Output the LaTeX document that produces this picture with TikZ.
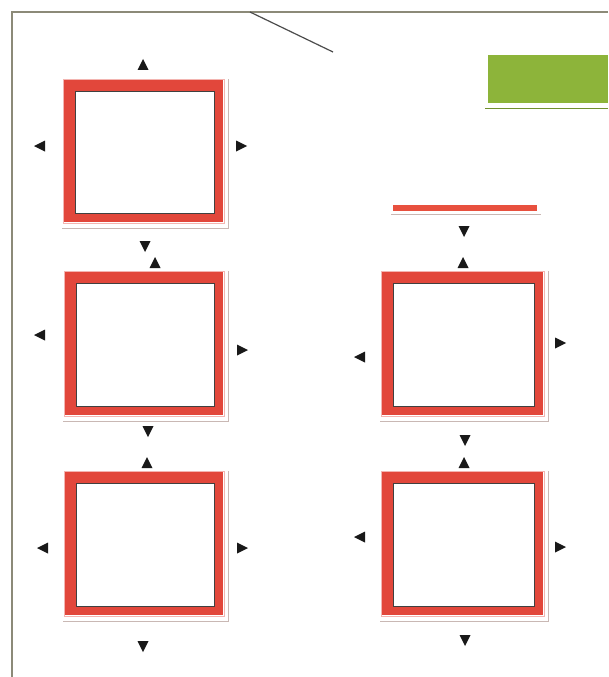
\documentclass[tikz,border=0pt]{standalone}
\usetikzlibrary{calc}
\definecolor{boxred}{HTML}{E2473B}
\definecolor{barred}{HTML}{E8503E}
\definecolor{leafgreen}{HTML}{8DB43A}
\definecolor{framegray}{HTML}{8C8A78}
\definecolor{shadowgray}{HTML}{C9B8B4}
\tikzset{
  outerred/.style={fill=boxred, draw=none},
  innerwhite/.style={fill=white, draw=black!75, line width=0.9pt},
  shadowline/.style={draw=shadowgray, line width=0.9pt},
  tri/.style={fill=black!90},
  frameline/.style={draw=framegray, line width=1.6pt}
}
\newcommand\mybox[5]{% name x0 y0 x1 y1
  \draw[shadowline] (#2-2,#5+6) -- (#4+5,#5+6) -- (#4+5,#3-1);
  \draw[draw=boxred!40, line width=0.6pt] (#2-1,#3-1) rectangle (#4+1,#5+1);
  \fill[outerred] (#2,#3) rectangle (#4,#5);
  \coordinate (#1) at ({(#2+#4)/2},{(#3+#5)/2});
  \filldraw[innerwhite] (#2+11,#3+11) rectangle (#4-9,#5-9);
}
\newcommand\tup[2]{\fill[tri] (#1-5.5,#2+5) -- (#1+5.5,#2+5) -- (#1,#2-6) -- cycle;}
\newcommand\tdown[2]{\fill[tri] (#1-5.5,#2-5) -- (#1+5.5,#2-5) -- (#1,#2+6) -- cycle;}
\newcommand\tleft[2]{\fill[tri] (#1+5,#2-5.5) -- (#1+5,#2+5.5) -- (#1-6,#2) -- cycle;}
\newcommand\tright[2]{\fill[tri] (#1-5,#2-5.5) -- (#1-5,#2+5.5) -- (#1+6,#2) -- cycle;}
\begin{document}
\begin{tikzpicture}[x=1pt,y=-1pt]
\useasboundingbox (0,0) rectangle (608,677);
\fill[white] (0,0) rectangle (608,677);
% frame
\coordinate (tl) at (12,12);
\coordinate (tr) at (608,12);
\coordinate (bl) at (12,677);
\draw[frameline] (tr) -- (tl) -- (bl);
\coordinate (d1) at (250,12);
\coordinate (d2) at (333,52);
\draw[draw=black!70, line width=1.2pt] (d1) -- (d2);
% green block
\fill[leafgreen] (488,55) rectangle (608,103);
\draw[draw=leafgreen!80!black, line width=1pt] (485,108) -- (608,108);
% red bar
\draw[shadowline] (391,214) -- (541,214);
\fill[barred] (393,205) rectangle (537,211);
% boxes
\mybox{b1}{64}{80}{223}{222}
\mybox{b2}{65}{272}{223}{415}
\mybox{b3}{65}{472}{223}{615}
\mybox{b4}{382}{272}{543}{415}
\mybox{b5}{382}{472}{543}{615}
% arrows box1
\tup{143}{65}
\tleft{40}{146}
\tright{241}{146}
\tdown{145}{246}
% box2
\tup{155}{263}
\tleft{40}{335}
\tright{242}{350}
\tdown{148}{431}
% box3
\tup{147}{463}
\tleft{43}{548}
\tright{242}{548}
\tdown{143}{646}
% above box4
\tdown{464}{231}
% box4
\tup{463}{263}
\tleft{360}{357}
\tright{560}{343}
\tdown{465}{440}
% box5
\tup{464}{463}
\tleft{360}{537}
\tright{560}{547}
\tdown{465}{640}
\end{tikzpicture}
\end{document}
